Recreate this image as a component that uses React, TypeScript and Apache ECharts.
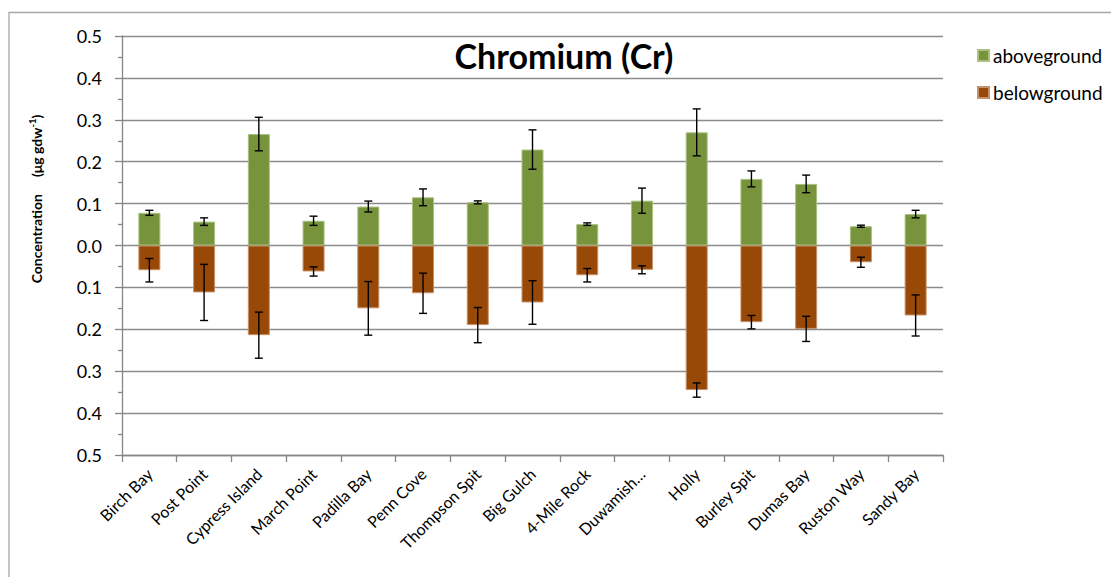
import React, { useEffect, useRef } from "react";
import * as echarts from "echarts";

const categories = [
  "Birch Bay", "Post Point", "Cypress Island", "March Point", "Padilla Bay",
  "Penn Cove", "Thompson Spit", "Big Gulch", "4-Mile Rock", "Duwamish…",
  "Holly", "Burley Spit", "Dumas Bay", "Ruston Way", "Sandy Bay",
];
const aboveground = [0.078, 0.057, 0.266, 0.059, 0.093, 0.115, 0.103, 0.229, 0.051, 0.107, 0.270, 0.159, 0.147, 0.046, 0.075];
const abovegroundErr = [0.006, 0.009, 0.040, 0.011, 0.013, 0.020, 0.0035, 0.047, 0.003, 0.030, 0.056, 0.019, 0.021, 0.0025, 0.009];
const belowground = [-0.059, -0.112, -0.214, -0.062, -0.150, -0.114, -0.190, -0.136, -0.071, -0.058, -0.345, -0.183, -0.199, -0.040, -0.167];
const belowgroundErr = [0.028, 0.067, 0.055, 0.011, 0.064, 0.048, 0.042, 0.052, 0.016, 0.0095, 0.017, 0.016, 0.030, 0.012, 0.049];

const FONT = "Lato";

function errorData(vals: number[], errs: number[]) {
  return vals.map((v, i) => [i, v - errs[i], v + errs[i]]);
}

function renderError(params: any, api: any) {
  const i = api.value(0);
  const lo = api.coord([i, api.value(1)]);
  const hi = api.coord([i, api.value(2)]);
  const hw = 4;
  const style = { stroke: "#000", lineWidth: 1.4 };
  return {
    type: "group",
    children: [
      { type: "line", shape: { x1: hi[0], y1: hi[1], x2: lo[0], y2: lo[1] }, style },
      { type: "line", shape: { x1: hi[0] - hw, y1: hi[1], x2: hi[0] + hw, y2: hi[1] }, style },
      { type: "line", shape: { x1: lo[0] - hw, y1: lo[1], x2: lo[0] + hw, y2: lo[1] }, style },
    ],
  };
}

export default function App() {
  const ref = useRef<HTMLDivElement>(null);
  useEffect(() => {
    const chart = echarts.init(ref.current!, null, { renderer: "svg" });
    chart.setOption({
      animation: false,
      backgroundColor: "#fff",
      grid: { left: 122, right: 168, top: 36, bottom: 122 },
      legend: {
        data: ["aboveground", "belowground"],
        orient: "vertical",
        left: 972,
        top: 41,
        itemWidth: 11,
        itemHeight: 11,
        itemGap: 18,
        icon: "rect",
        textStyle: { fontFamily: FONT, fontSize: 19, color: "#000", padding: [0, 0, 0, -1] },
      },
      graphic: [
        {
          type: "rect",
          shape: { x: 9, y: 12.5, width: 1200, height: 700 },
          style: { fill: "none", stroke: "#a6a6a6", lineWidth: 1.3 },
          silent: true,
          z: -10,
        },
        {
          type: "text",
          x: 564,
          y: 55,
          style: {
            text: "Chromium (Cr)",
            fontFamily: FONT,
            fontWeight: "bold",
            fontSize: 34,
            fill: "#000",
            align: "center",
            verticalAlign: "middle",
          },
          z: 100,
        },
        {
          type: "text",
          x: 36,
          y: 199,
          rotation: Math.PI / 2,
          style: {
            text: "{a|Concentration     (μg gdw}{s|-1}{a|)}",
            align: "center",
            verticalAlign: "middle",
            rich: {
              a: { fontFamily: FONT, fontWeight: "bold", fontSize: 14, fill: "#000" },
              s: { fontFamily: FONT, fontWeight: "bold", fontSize: 9.5, fill: "#000", verticalAlign: "top", padding: [0, 0, 7, 0] },
            },
          },
        },
      ],
      xAxis: {
        type: "category",
        data: categories,
        position: "bottom",
        axisLine: { onZero: false, lineStyle: { color: "#868686", width: 1.3 } },
        axisTick: { show: true, length: 7, lineStyle: { color: "#868686", width: 1.3 } },
        axisLabel: {
          rotate: 45,
          interval: 0,
          margin: 16,
          fontFamily: FONT,
          fontSize: 16,
          color: "#000",
        },
      },
      yAxis: {
        type: "value",
        min: -0.5,
        max: 0.5,
        interval: 0.1,
        axisLine: { show: true, lineStyle: { color: "#868686", width: 1.3 } },
        axisTick: { show: true, length: 7, lineStyle: { color: "#868686", width: 1.3 } },
        minorTick: { show: true, splitNumber: 2, length: 4, lineStyle: { color: "#868686", width: 1.3 } },
        splitLine: { show: true, lineStyle: { color: "#8c8c8c", width: 1.3 } },
        axisLabel: {
          margin: 20,
          fontFamily: FONT,
          fontSize: 18,
          color: "#000",
          formatter: (v: number) => Math.abs(v).toFixed(1),
        },
      },
      series: [
        {
          name: "aboveground",
          type: "bar",
          data: aboveground,
          barWidth: 22,
          barGap: "-100%",
          itemStyle: { color: "#77933C", borderColor: "#a9c07e", borderWidth: 1 },
        },
        {
          name: "belowground",
          type: "bar",
          data: belowground,
          barWidth: 22,
          barGap: "-100%",
          itemStyle: { color: "#984807", borderColor: "#c7926a", borderWidth: 1 },
        },
        {
          name: "aboveErr",
          type: "custom",
          renderItem: renderError,
          data: errorData(aboveground, abovegroundErr),
          encode: { x: 0, y: [1, 2] },
          z: 10,
        },
        {
          name: "belowErr",
          type: "custom",
          renderItem: renderError,
          data: errorData(belowground, belowgroundErr),
          encode: { x: 0, y: [1, 2] },
          z: 10,
        },
      ],
    });
    return () => chart.dispose();
  }, []);
  return (
    <div
      ref={ref}
      style={{ position: "absolute", left: 0, top: 0, width: 1111, height: 577 }}
    />
  );
}
